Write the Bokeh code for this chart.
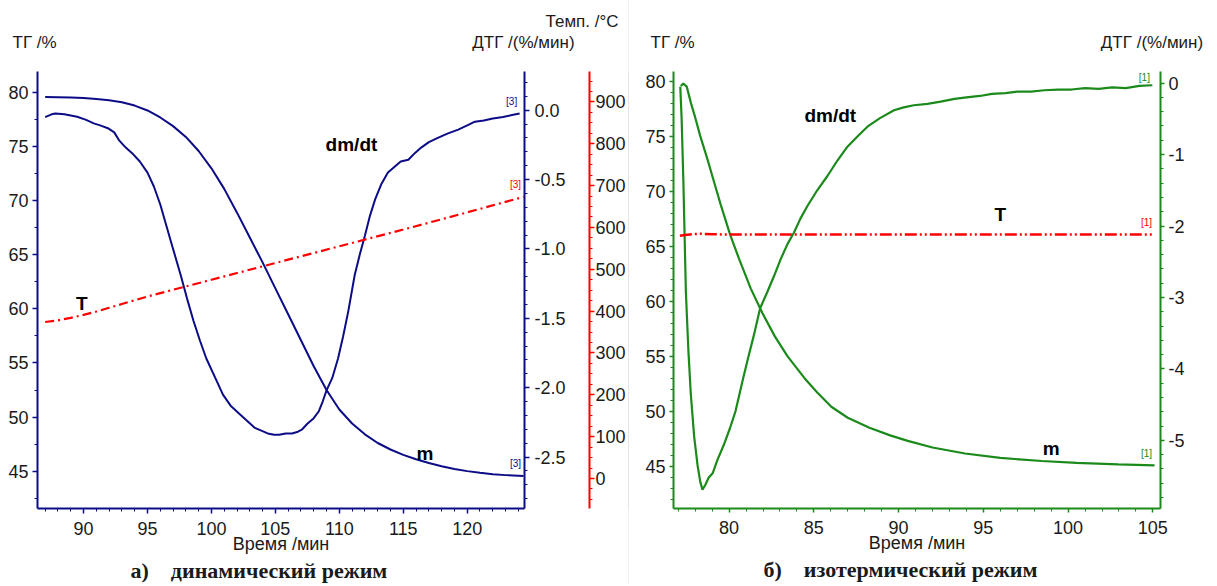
from bokeh.plotting import figure
from bokeh.models import Range1d, LinearAxis, FixedTicker, PrintfTickFormatter, Label, Title
from bokeh.layouts import row
from bokeh.embed import file_html
from bokeh.resources import INLINE
import numpy as np

# ---------------- data: panel a (dynamic) ----------------
t_a_m = [87.0, 88, 89, 90, 91, 92, 93, 94, 95, 96, 97, 98, 99, 100, 101, 102, 103, 104, 105, 106,
         107, 108, 109, 110, 111, 112, 113, 114, 115, 116, 117, 118, 119, 120, 121, 122, 123, 124.4]
m_a = [79.6, 79.58, 79.55, 79.5, 79.42, 79.3, 79.1, 78.8, 78.35, 77.7, 76.9, 75.9, 74.6, 73.0, 71.1,
       68.9, 66.6, 64.3, 61.9, 59.5, 57.1, 54.7, 52.5, 50.7, 49.4, 48.4, 47.6, 47.0, 46.5, 46.1,
       45.75, 45.45, 45.2, 45.0, 44.85, 44.72, 44.63, 44.55]

t_a_dtg = [87.0, 87.5, 87.8, 88.5, 89.5, 90.2, 90.8, 91.3, 91.9, 92.4, 92.8, 93.3, 93.8, 94.4, 95.0,
           95.5, 96.0, 96.5, 97.0, 97.6, 98.1, 98.6, 99.1, 99.6, 100.3, 100.9, 101.5, 102.2, 102.8,
           103.4, 103.9, 104.4, 104.9, 105.3, 105.8, 106.3, 106.7, 107.1, 107.5, 108.0, 108.4, 108.7,
           109.0, 109.45, 109.9, 110.3, 110.7, 111.2, 111.6, 112.0, 112.4, 112.8, 113.3, 113.8, 114.3,
           114.8, 115.4, 115.9, 116.4, 117.0, 117.7, 118.5, 119.3, 120.0, 120.6, 121.3, 122.0, 122.8,
           123.5, 124.1]
dtg_a = [-0.05, -0.03, -0.024, -0.03, -0.048, -0.07, -0.095, -0.11, -0.13, -0.16, -0.22, -0.27, -0.31,
         -0.37, -0.45, -0.55, -0.68, -0.84, -1.00, -1.19, -1.36, -1.52, -1.66, -1.79, -1.93, -2.05,
         -2.13, -2.19, -2.24, -2.29, -2.31, -2.33, -2.34, -2.34, -2.33, -2.33, -2.32, -2.30, -2.26,
         -2.22, -2.17, -2.10, -2.02, -1.93, -1.79, -1.63, -1.45, -1.19, -1.04, -0.905, -0.76, -0.643,
         -0.53, -0.45, -0.41, -0.37, -0.357, -0.31, -0.27, -0.23, -0.20, -0.167, -0.14, -0.11, -0.083,
         -0.075, -0.06, -0.05, -0.035, -0.024]

t_a_T = [87.0, 88, 89, 90, 91, 92, 93, 94, 95, 96, 97, 98, 100, 102, 105, 110, 115, 120, 124.4]
T_a = [374, 378, 384, 391, 399, 408, 417, 426, 435, 443, 451, 459, 475, 491, 515, 555, 595, 636, 673]

# ---------------- data: panel b (isothermal) ----------------
t_b_m = [77.15, 77.3, 77.5, 77.75, 78.0, 78.3, 78.73, 79.1, 79.5, 80.06, 80.6, 81.28, 81.97, 82.7,
         83.44, 84.45, 85.2, 86.03, 87.0, 88.28, 89.5, 90.54, 92.0, 93.92, 96.0, 98.44, 100.5,
         102.95, 105.1]
m_b = [79.55, 79.77, 79.5, 78.0, 76.7, 75.0, 72.86, 70.9, 68.8, 66.04, 63.8, 61.14, 58.9, 56.8,
       55.0, 53.0, 51.7, 50.4, 49.4, 48.5, 47.8, 47.3, 46.7, 46.15, 45.75, 45.47, 45.3, 45.17, 45.08]

t_b_dtg = [77.12, 77.2, 77.3, 77.45, 77.6, 77.74, 77.94, 78.14, 78.3, 78.43, 78.6, 78.8, 79.03, 79.3,
           79.71, 80.05, 80.38, 80.84, 81.15, 81.47, 81.83, 82.26, 82.65, 83.05, 83.45, 83.83, 84.2,
           84.62, 85.2, 85.8, 86.4, 86.98, 87.6, 88.16, 88.9, 89.73, 90.3, 90.9, 91.7, 92.48, 93.3,
           94.0, 94.8, 95.5, 96.3, 97.0, 97.8, 98.6, 99.4, 100.2, 101.0, 101.8, 102.6, 103.4, 104.2,
           104.97]
dtg_b = [-0.05, -0.5, -1.35, -2.92, -3.75, -4.35, -4.95, -5.35, -5.58, -5.69, -5.62, -5.52, -5.46,
         -5.28, -5.05, -4.83, -4.59, -4.12, -3.82, -3.52, -3.15, -2.92, -2.7, -2.46, -2.25, -2.09,
         -1.9, -1.72, -1.5, -1.30, -1.08, -0.89, -0.74, -0.61, -0.49, -0.38, -0.34, -0.31, -0.29,
         -0.26, -0.22, -0.2, -0.18, -0.15, -0.14, -0.12, -0.12, -0.1, -0.09, -0.09, -0.07, -0.08,
         -0.06, -0.07, -0.04, -0.03]

t_b_T = [77.1, 77.4, 77.8, 78.3, 79.0, 80.0, 82.0, 85.0, 90.0, 95.0, 100.0, 105.1]
T_b = [580, 582, 584, 585, 584, 583, 583, 583, 583, 583, 583, 583]

# ticks
ticks_time_a = [90, 95, 100, 105, 110, 115, 120]
ticks_tg_a = [45, 50, 55, 60, 65, 70, 75, 80]
ticks_dtg_a = [-2.5, -2.0, -1.5, -1.0, -0.5, 0.0]
ticks_temp_a = [0, 100, 200, 300, 400, 500, 600, 700, 800, 900]
ticks_time_b = [80, 85, 90, 95, 100, 105]
ticks_tg_b = [45, 50, 55, 60, 65, 70, 75, 80]
ticks_dtg_b = [-5, -4, -3, -2, -1, 0]

NAVY = "#0c0c86"
GREEN = "#1b8a1b"
RED = "#ff0000"
TXT = "#1a1a1a"
SANS = "Liberation Sans"
SERIF = "Liberation Serif"
FS = "18px"
HFS = "17px"
H = 585
NB = "\u00a0"


def style_axis(ax, color, major, minor, fmt, standoff=5, tick_out=5):
    ax.ticker = FixedTicker(ticks=major, minor_ticks=minor)
    ax.formatter = PrintfTickFormatter(format=fmt)
    ax.axis_line_color = color
    ax.axis_line_width = 2
    ax.major_tick_line_color = color
    ax.minor_tick_line_color = color
    ax.major_tick_line_width = 1.5
    ax.minor_tick_line_width = 1
    ax.major_tick_out = tick_out
    ax.major_tick_in = 0
    ax.minor_tick_out = 3
    ax.minor_tick_in = 0
    ax.major_label_standoff = standoff
    ax.major_label_text_font = SANS
    ax.major_label_text_font_size = FS
    ax.major_label_text_color = TXT


def base_fig(w, xr, yr, bl, br):
    p = figure(width=w, height=H, x_range=Range1d(*xr), y_range=Range1d(*yr),
               output_backend="svg", toolbar_location=None,
               min_border_left=bl, min_border_right=br, min_border_top=71, min_border_bottom=H - 512)
    p.outline_line_color = None
    p.xgrid.visible = False
    p.ygrid.visible = False
    p.background_fill_color = "white"
    p.border_fill_color = "white"
    return p


def txt(p, x, y, s, size="19px", color="black", bold=True, rname="default", xo=0, yo=0):
    lab = Label(x=x, y=y, text=s, text_font=SANS, text_font_size=size, text_color=color,
                text_font_style="bold" if bold else "normal", text_align="center",
                text_baseline="middle", x_offset=xo, y_offset=yo, y_range_name=rname)
    p.add_layout(lab)


def head(p, s, offset, size=HFS, font=SANS, style="normal", standoff=0, valign="bottom", where="above"):
    t = Title(text=s, align="left", offset=offset, text_font=font, text_font_size=size,
              text_font_style=style, text_color=TXT, standoff=standoff, vertical_align=valign)
    p.add_layout(t, where)


def spacer(p):
    p.add_layout(Title(text=" ", text_font_size="12px", standoff=4), "above")


def xlabel(ax):
    ax.axis_label = "Время /мин"
    ax.axis_label_text_font = SANS
    ax.axis_label_text_font_size = FS
    ax.axis_label_text_font_style = "normal"
    ax.axis_label_text_color = TXT
    ax.axis_label_standoff = -4


# ================= panel a =================
p1 = base_fig(628, (86.4, 124.48), (41.544, 81.952), 37, 0)
p1.extra_y_ranges = {"dtg": Range1d(-2.871, 0.2786), "temp": Range1d(-71.8, 972.8)}

style_axis(p1.xaxis[0], NAVY, ticks_time_a, list(np.arange(87, 125, 1)), "%d", standoff=8)
xlabel(p1.xaxis[0])
style_axis(p1.yaxis[0], NAVY, ticks_tg_a, list(np.arange(42.5, 82, 2.5)), "%d", standoff=4)

ax_dtg = LinearAxis(y_range_name="dtg")
style_axis(ax_dtg, NAVY, ticks_dtg_a, list(np.round(np.arange(-2.8, 0.3, 0.1), 2)), "%.1f", standoff=5)
ax_dtg.axis_label = " "
ax_dtg.axis_label_text_font_size = "14px"
ax_dtg.axis_label_standoff = 2
p1.add_layout(ax_dtg, "right")

ax_temp = LinearAxis(y_range_name="temp")
style_axis(ax_temp, RED, ticks_temp_a, list(np.arange(-50, 975, 25)), "%d", standoff=1)
p1.add_layout(ax_temp, "right")

p1.line(t_a_m, m_a, line_color=NAVY, line_width=2)
p1.line(t_a_dtg, dtg_a, line_color=NAVY, line_width=2, y_range_name="dtg")
p1.line(t_a_T, T_a, line_color=RED, line_width=2.2, line_dash="9 4 2 4", y_range_name="temp")

txt(p1, 110.95, 75.17, "dm/dt")
txt(p1, 89.87, 60.5, "T")
txt(p1, 116.7, 46.6, "m")
txt(p1, t_a_dtg[-1], dtg_a[-1], "[3]", size="10px", color=NAVY, bold=False, rname="dtg", xo=-8, yo=12)
txt(p1, t_a_m[-1], m_a[-1], "[3]", size="10px", color=NAVY, bold=False, xo=-8, yo=12)
txt(p1, t_a_T[-1], T_a[-1], "[3]", size="10px", color=RED, bold=False, rname="temp", xo=-8, yo=12)

spacer(p1)
head(p1, "ТГ /%" + NB * 88 + "ДТГ /(%/мин)", -25)
head(p1, "Темп. /°C", 508)
head(p1, "а)" + NB * 4 + "динамический режим", 93, size="22px", font=SERIF, style="bold",
     standoff=2, valign="top", where="below")

# ================= separator =================
sep = figure(width=1, height=H, output_backend="svg", toolbar_location=None,
             x_axis_location=None, y_axis_location=None,
             min_border_left=0, min_border_right=0, min_border_top=0, min_border_bottom=0)
sep.background_fill_color = "#c8c8c8"
sep.border_fill_color = "#c8c8c8"
sep.outline_line_color = None
sep.xgrid.visible = False
sep.ygrid.visible = False

# ================= panel b =================
p2 = base_fig(588, (76.72, 105.45), (41.153, 80.874), 44, 57)
p2.extra_y_ranges = {"dtg": Range1d(-5.953, 0.1623), "temp": Range1d(-71.8, 972.8)}

style_axis(p2.xaxis[0], GREEN, ticks_time_b, list(np.arange(77, 106, 1)), "%d", standoff=8, tick_out=4)
xlabel(p2.xaxis[0])
style_axis(p2.yaxis[0], GREEN, ticks_tg_b, list(np.arange(42, 81, 1)), "%d", standoff=4, tick_out=4)

ax_dtg2 = LinearAxis(y_range_name="dtg")
style_axis(ax_dtg2, GREEN, ticks_dtg_b, list(np.round(np.arange(-5.8, 0.2, 0.2), 2)), "%d",
           standoff=4, tick_out=4)
p2.add_layout(ax_dtg2, "right")

p2.line(t_b_m, m_b, line_color=GREEN, line_width=2.2)
p2.line(t_b_dtg, dtg_b, line_color=GREEN, line_width=2.2, y_range_name="dtg")
p2.line(t_b_T, T_b, line_color=RED, line_width=2.5, line_dash="12 3 2 3 2 3", y_range_name="temp")

txt(p2, 85.97, 76.9, "dm/dt")
txt(p2, 96.0, 67.9, "T")
txt(p2, 99.0, 46.58, "m")
txt(p2, t_b_dtg[-1], dtg_b[-1], "[1]", size="10px", color=GREEN, bold=False, rname="dtg", xo=-8, yo=8)
txt(p2, t_b_m[-1], m_b[-1], "[1]", size="10px", color=GREEN, bold=False, xo=-8, yo=12)
txt(p2, t_b_T[-1], T_b[-1], "[1]", size="10px", color=RED, bold=False, rname="temp", xo=-8, yo=12)

spacer(p2)
head(p2, "ТГ /%" + NB * 86 + "ДТГ /(%/мин)", -23)
head(p2, "б)" + NB * 4 + "изотермический режим", 90, size="22px", font=SERIF, style="bold",
     standoff=2, valign="top", where="below")

layout = row(p1, sep, p2)
open("out.html", "w").write(file_html(layout, INLINE))
